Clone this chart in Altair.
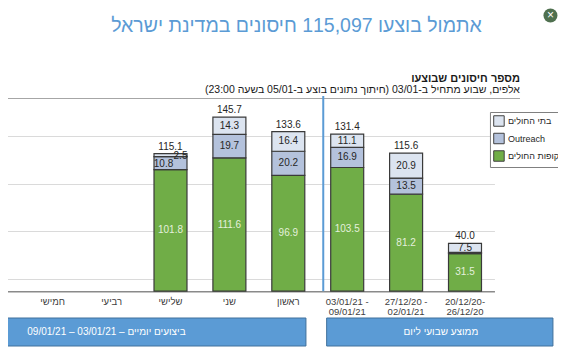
import altair as alt
import pandas as pd

# ---------------- data ----------------
categories = ["שבת", "שישי", "חמישי", "רביעי", "שלישי", "שני", "ראשון",
              "03/01/21 -\n09/01/21", "27/12/20 -\n02/01/21", "20/12/20-\n26/12/20"]
series = ["קופות החולים", "Outreach", "בתי החולים"]
kupot = [None, None, None, None, 101.8, 111.6, 96.9, 103.5, 81.2, 31.5]
outreach = [None, None, None, None, 10.8, 19.7, 20.2, 16.9, 13.5, 1.0]
hospitals = [None, None, None, None, 2.5, 14.3, 16.4, 11.1, 20.9, 7.5]
totals = [None, None, None, None, 115.1, 145.7, 133.6, 131.4, 115.6, 40.0]

legend_order = ["בתי החולים", "Outreach", "קופות החולים"]
legend_colors = ["#dce4f0", "#b4c2dc", "#70ad47"]

title_text = "אתמול בוצעו 115,097 חיסונים במדינת ישראל"
sub1 = "מספר חיסונים שבוצעו"
sub2 = "\u200fאלפים, שבוע מתחיל ב-03/01 (חיתוך נתונים בוצע ב-05/01 בשעה 23:00)\u200f"
box1_text = "\u200fביצועים יומיים – 03/01/21 – 09/01/21\u200f"
box2_text = "ממוצע שבועי ליום"

# ---------------- tables ----------------
rows = []
for i, c in enumerate(categories):
    base = 0.0
    for s, vals in zip(series, [kupot, outreach, hospitals]):
        v = vals[i]
        if v is None:
            continue
        kind = "green" if s == series[0] else "dark"
        if c == "שלישי" and s == "בתי החולים":
            kind = "right"
        if c == "שלישי" and s == "Outreach":
            kind = "left"
        if v < 2:
            kind = "none"
        rows.append(dict(cat=c, series=s, lo=base, hi=base + v, mid=base + v / 2,
                         label=f"{v:.1f}", kind=kind))
        base += v
seg = pd.DataFrame(rows)
tot = pd.DataFrame([dict(cat=c, total=t, label=f"{t:.1f}")
                    for c, t in zip(categories, totals) if t is not None])
one = pd.DataFrame({"a": [0]})

FONT = "Liberation Sans"
W, H = 589, 191.2

xscale = alt.Scale(domain=categories, paddingInner=0.44, paddingOuter=0.22)
yscale = alt.Scale(domain=[0, 160], nice=False, zero=True)

X = alt.X("cat:N", sort=categories, scale=xscale,
          axis=alt.Axis(title=None, labelExpr="split(datum.label, '\\n')", labelAngle=0,
                        ticks=False, labelPadding=5, labelFontSize=9.5, labelFont=FONT,
                        labelColor="#404040", domainColor="#8a8a8a", domainWidth=1.6,
                        labelOverlap=False, labelLineHeight=10.5, grid=False))

bars = alt.Chart(seg).mark_bar(stroke="#3a3a3a", strokeWidth=1.2).encode(
    x=X,
    y=alt.Y("lo:Q", scale=yscale,
            axis=alt.Axis(title=None, labels=False, ticks=False, domain=False, grid=True,
                          values=list(range(10, 160, 10)), gridColor="#dadada", gridWidth=1)),
    y2="hi:Q",
    color=alt.Color("series:N",
                    scale=alt.Scale(domain=legend_order, range=legend_colors),
                    legend=alt.Legend(orient="none", legendX=584.5, legendY=12, title=None,
                                      symbolType="square", symbolSize=110,
                                      symbolStrokeColor="#404040", symbolStrokeWidth=1,
                                      labelFontSize=9, labelFont=FONT, labelColor="#262626",
                                      padding=3, strokeColor="#808080", fillColor="white",
                                      rowPadding=1.5, labelOffset=3, cornerRadius=0)),
)

def seg_text(kind, color, dx=0, dy=0):
    return alt.Chart(seg).transform_filter(alt.datum.kind == kind).mark_text(
        fontSize=10, font=FONT, color=color, baseline="middle", dx=dx, dy=dy
    ).encode(x=alt.X("cat:N", sort=categories, scale=xscale),
             y=alt.Y("mid:Q", scale=yscale), text="label:N")

lab_green = seg_text("green", "#e4f0dc")
lab_dark = seg_text("dark", "#262626")
lab_right = seg_text("right", "#262626", dx=10, dy=1)
lab_left = seg_text("left", "#262626", dx=-7, dy=1)

tot_text = alt.Chart(tot).mark_text(fontSize=10, font=FONT, color="#262626",
                                    baseline="middle", dy=-7).encode(
    x=alt.X("cat:N", sort=categories, scale=xscale),
    y=alt.Y("total:Q", scale=yscale), text="label:N")

# ---------------- decorations ----------------
top_rule = alt.Chart(one).mark_rule(color="#a6a6a6", strokeWidth=1.2).encode(
    x=alt.value(80), x2=alt.value(614.5), y=alt.value(-1.5))
sep_rule = alt.Chart(one).mark_rule(color="#5b9bd5", strokeWidth=2).encode(
    x=alt.value(417.8), y=alt.value(-4), y2=alt.value(191.2))

title = alt.Chart(one).mark_text(text=title_text, fontSize=19.5, font=FONT, color="#5b9bd5",
                                 align="center", baseline="alphabetic").encode(
    x=alt.value(391), y=alt.value(-68.5))
s1 = alt.Chart(one).mark_text(text=sub1, fontSize=11, font=FONT, fontWeight="bold",
                              color="#1a1a1a", align="right", baseline="alphabetic").encode(
    x=alt.value(614.5), y=alt.value(-18))
s2 = alt.Chart(one).mark_text(text=sub2, fontSize=10.5, font=FONT, color="#1a1a1a",
                              align="right", baseline="alphabetic").encode(
    x=alt.value(614.5), y=alt.value(-7))

box1 = alt.Chart(one).mark_rect(fill="#5b9bd5", stroke="#41719c", strokeWidth=1).encode(
    x=alt.value(70), x2=alt.value(400.5), y=alt.value(218), y2=alt.value(246))
box2 = alt.Chart(one).mark_rect(fill="#5b9bd5", stroke="#41719c", strokeWidth=1).encode(
    x=alt.value(421.2), x2=alt.value(647.5), y=alt.value(218), y2=alt.value(246))
b1t = alt.Chart(one).mark_text(text=box1_text, fontSize=10, font=FONT, color="white",
                               align="center", baseline="middle").encode(
    x=alt.value(201), y=alt.value(232))
b2t = alt.Chart(one).mark_text(text=box2_text, fontSize=10, font=FONT, color="white",
                               align="center", baseline="middle").encode(
    x=alt.value(535.5), y=alt.value(232))

close_c = alt.Chart(one).mark_point(filled=True, shape="circle", size=196, color="#4f704f",
                                    opacity=1).encode(x=alt.value(645), y=alt.value(-84.5))
close_x = alt.Chart(one).mark_text(text="×", fontSize=12, font=FONT, color="white",
                                   align="center", baseline="middle").encode(
    x=alt.value(645), y=alt.value(-84.8))

chart = alt.layer(
    top_rule, bars, lab_green, lab_dark, lab_right, lab_left, tot_text, sep_rule,
    title, s1, s2, box1, box2, b1t, b2t, close_c, close_x
).properties(
    width=W, height=H,
    autosize=alt.AutoSizeParams(type="none"),
    padding={"left": -102.55, "top": 92, "right": 63.55, "bottom": 56.8},
    background="white",
).configure_view(stroke=None)

chart.save("out.html", embed_options={"renderer": "svg", "actions": False})
